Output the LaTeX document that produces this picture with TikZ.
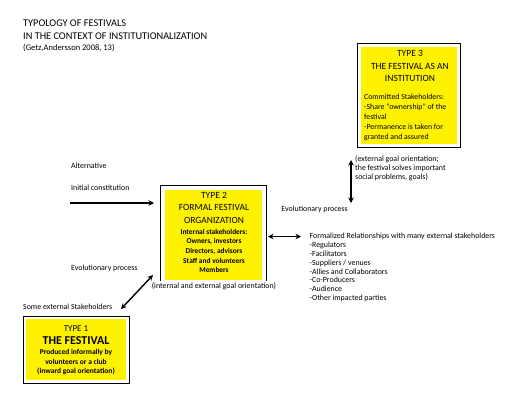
\documentclass[tikz,border=0pt]{standalone}
\usepackage{fontspec}
\setmainfont{Carlito}
\usetikzlibrary{arrows.meta}
\newcommand\fsmall{\fontsize{7.9}{8.8}\selectfont}
\newcommand\fhead{\fontsize{9.5}{12.5}\selectfont}
\begin{document}
\begin{tikzpicture}[x=1pt,y=-1pt,
  frame/.style={draw=black, line width=0.8pt, fill=white, inner sep=0pt},
  yel/.style={fill=yellow, draw=none, inner sep=0pt},
  txt/.style={inner sep=0pt, font=\fsmall, align=left, anchor=west},
  arr/.style={line width=1.4pt, -{Stealth[length=5.5pt,width=5.5pt]}},
  darr/.style={line width=1.4pt, {Stealth[length=5.5pt,width=5.5pt]}-{Stealth[length=5.5pt,width=5.5pt]}}
]
\useasboundingbox (0,0) rectangle (529,400);
\fill[white] (0,0) rectangle (529,400);

% title
\node[inner sep=0pt, anchor=west, font=\fontsize{10.3}{12}\selectfont] (title1) at (23,23) {TYPOLOGY OF FESTIVALS};
\node[inner sep=0pt, anchor=west, font=\fontsize{10.3}{12}\selectfont] (title2) at (23,36) {IN THE CONTEXT OF INSTITUTIONALIZATION};
\node[inner sep=0pt, anchor=west, font=\fontsize{8.5}{10}\selectfont] (title3) at (23,47.5) {(Getz,Andersson 2008, 13)};

% Type 3
\node[frame, minimum width=103pt, minimum height=104pt] (f3) at (408.5,95) {};
\node[yel, minimum width=96pt, minimum height=97pt] (y3) at (409,95.5) {};
\node[inner sep=0pt, align=center, font=\fhead] (h3) at (410,66) {TYPE 3\\THE FESTIVAL AS AN\\INSTITUTION};
\node[txt, font=\fontsize{7.8}{9.9}\selectfont] (b3) at (364,117.5) {Committed Stakeholders:\\-Share ``ownership'' of the\\festival\\-Permanence is taken for\\granted and assured};

% Type 2
\node[frame, minimum width=106pt, minimum height=98pt] (f2) at (213,234) {};
\node[yel, minimum width=97pt, minimum height=90pt] (y2) at (213.5,235) {};
\node[inner sep=0pt, align=center, font=\fhead] (h2) at (214,207.5) {TYPE 2\\FORMAL FESTIVAL\\ORGANIZATION};
\node[inner sep=0pt, align=center, font=\bfseries\fontsize{7.4}{9.6}\selectfont] (b2) at (214,251) {Internal stakeholders:\\Owners, investors\\Directors, advisors\\Staff and volunteers\\Members};
\node[inner sep=1pt, fill=white, font=\fsmall] (g2) at (214,286) {(internal and external goal orientation)};

% Type 1
\node[frame, minimum width=106pt, minimum height=67pt] (f1) at (76,349.5) {};
\node[yel, minimum width=100pt, minimum height=61pt] (y1) at (76,349.5) {};
\node[inner sep=0pt, font=\fontsize{9}{10}\selectfont] (h1a) at (76,329) {TYPE 1};
\node[inner sep=0pt, font=\bfseries\fontsize{12}{13}\selectfont] (h1b) at (76,341) {THE FESTIVAL};
\node[inner sep=0pt, align=center, font=\bfseries\fontsize{7.5}{9.5}\selectfont] (b1) at (76,362) {Produced informally by\\volunteers or a club\\(inward goal orientation)};

% free texts
\node[txt] (alt) at (71,166) {Alternative};
\node[txt] (init) at (71,188) {Initial constitution};
\node[txt] (evo1) at (71,268) {Evolutionary process};
\node[txt] (some) at (23,307) {Some external Stakeholders};
\node[txt, anchor=east] (evo2) at (348,209) {Evolutionary process};
\node[txt] (ext) at (355,168) {(external goal orientation;\\the festival solves important\\social problems, goals)};
\node[txt] (form) at (309.5,267.5) {Formalized Relationships with many external stakeholders\\-Regulators\\-Facilitators\\-Suppliers / venues\\-Allies and Collaborators\\-Co-Producers\\-Audience\\-Other impacted parties};

% connectors
\coordinate (a0) at (70,203);
\coordinate (a1) at (154,203);
\coordinate (r1) at (268,236.5);
\coordinate (r2) at (301,236.5);
\coordinate (v1) at (351,160);
\coordinate (v2) at (351,203);
\coordinate (d1) at (153,275);
\coordinate (d2) at (121,309);
\draw[arr] (a0) -- (a1);
\draw[darr] (r1) -- (r2);
\draw[darr] (v1) -- (v2);
\draw[darr] (d1) -- (d2);
\end{tikzpicture}
\end{document}
